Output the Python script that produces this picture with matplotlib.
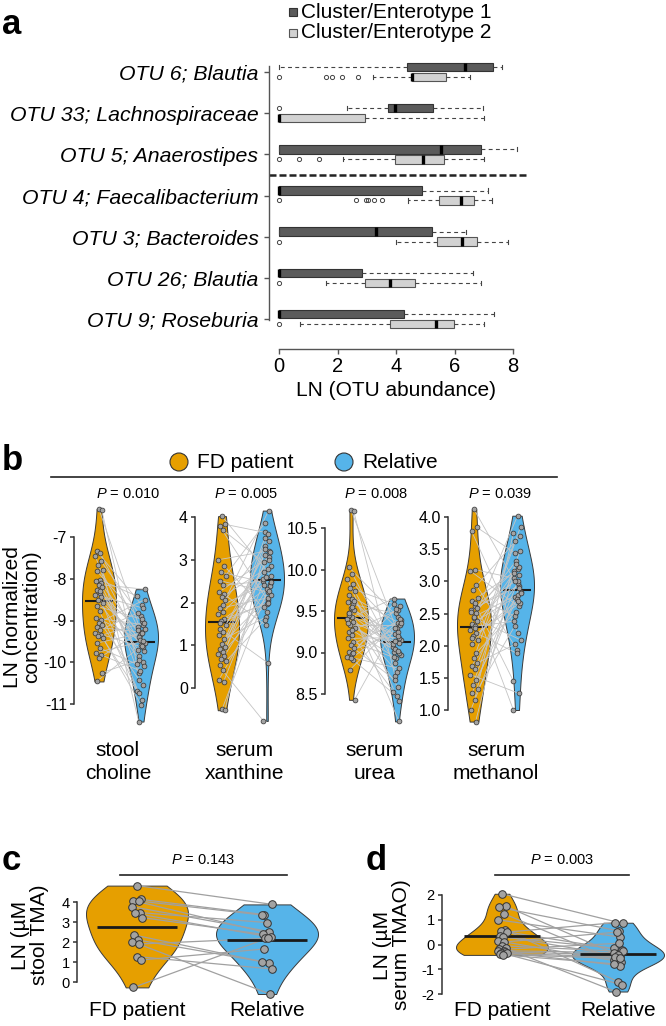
#!/usr/bin/python3
# Enterotype boxplots (a) and paired violin plots (b-d)
import numpy as np
import matplotlib
matplotlib.use('Agg')
import matplotlib.pyplot as plt
from matplotlib.patches import Rectangle, Circle

plt.rcParams['font.family'] = ['Liberation Sans', 'DejaVu Sans']
plt.rcParams['axes.unicode_minus'] = False
plt.rcParams['mathtext.fontset'] = 'custom'
plt.rcParams['mathtext.it'] = 'Liberation Sans:italic'
plt.rcParams['mathtext.rm'] = 'Liberation Sans'

# ==================================================
#   Panel a - box statistics per OTU (top to bottom)
otus = ['OTU 6; Blautia', 'OTU 33; Lachnospiraceae', 'OTU 5; Anaerostipes',
        'OTU 4; Faecalibacterium', 'OTU 3; Bacteroides', 'OTU 26; Blautia',
        'OTU 9; Roseburia']
c1_lo = [0, 2.31, 0, 0, 0, 0, 0]
c1_q1 = [4.37, 3.72, 0, 0, 0, 0, 0]
c1_med = [6.37, 3.97, 5.53, 0, 3.30, 0, 0]
c1_q3 = [7.32, 5.26, 6.90, 4.89, 5.24, 2.83, 4.29]
c1_hi = [7.61, 6.96, 8.12, 7.15, 6.40, 6.62, 7.36]
c1_out = [[], [0], [], [], [], [], []]
c2_lo = [3.20, 0, 2.20, 4.42, 3.99, 1.60, 0.71]
c2_q1 = [4.54, 0, 3.95, 5.46, 5.39, 2.95, 3.80]
c2_med = [4.54, 0, 4.91, 6.21, 6.27, 3.80, 5.37]
c2_q3 = [5.72, 2.94, 5.64, 6.67, 6.76, 4.65, 5.98]
c2_hi = [6.52, 7.00, 7.01, 7.29, 7.84, 6.91, 7.01]
c2_out = [[0, 1.61, 1.80, 2.17, 2.70], [], [0, 0.69, 1.37],
          [0, 2.63, 2.97, 3.05, 3.26, 3.51], [0], [0], [0]]

#   Panel b - LN normalized concentrations (paired FD patient / relative)
choline_fd = [-6.33, -6.36, -7.34, -7.38, -7.46, -7.58, -7.66, -7.78, -7.82, -8.02,
              -8.06, -8.10, -8.14, -8.20, -8.26, -8.33, -8.38, -8.44, -8.50, -8.58,
              -8.66, -8.78, -8.94, -8.98, -9.05, -9.10, -9.16, -9.22, -9.29, -9.34,
              -9.38, -9.42, -9.54, -9.66, -9.77, -9.82, -9.90, -10.25, -10.46, -8.30]
choline_rel = [-9.53, -10.26, -8.62, -9.16, -10.54, -8.90, -9.74, -11.42, -9.02, -8.42,
               -10.00, -9.34, -8.25, -9.86, -10.90, -9.22, -8.70, -9.58, -10.10, -9.40,
               -8.97, -10.68, -9.10, -9.46, -8.50, -10.42, -9.28, -8.82, -9.64, -11.02,
               -9.05, -10.74, -9.30, -10.05, -9.50, -10.20, -9.20, -9.95, -9.60, -9.70]
xanthine_fd = [4.02, 3.83, 3.79, 3.69, 3.00, 2.86, 2.71, 2.63, 2.51, 2.40,
               2.24, 2.20, 2.13, 2.05, 1.86, 1.78, 1.74, 1.62, 1.57, 1.47,
               1.39, 1.31, 1.24, 1.14, 1.04, 0.97, 0.91, 0.85, 0.80, 0.74,
               0.67, 0.62, 0.54, 0.41, 0.19, 0.15, -0.50, -0.52, 1.52, 1.95]
xanthine_rel = [2.63, 3.64, 2.05, 2.94, 3.21, 1.78, 2.44, 3.85, 2.24, 2.50,
                3.06, 1.47, 2.86, 3.33, 2.11, 2.71, 4.15, 1.97, 2.38, 3.12,
                0.58, 2.55, 3.00, 1.66, 2.17, 3.52, 2.79, 1.90, 3.44, 2.32,
                3.17, 1.59, 3.60, -0.77, 2.28, 2.60, 2.47, 3.25, 2.00, 2.42]
urea_fd = [10.72, 10.70, 10.03, 9.95, 9.89, 9.83, 9.78, 9.74, 9.69, 9.65,
           9.61, 9.58, 9.54, 9.51, 9.47, 9.43, 9.40, 9.37, 9.33, 9.29,
           9.25, 9.21, 9.17, 9.13, 9.09, 9.05, 9.01, 8.98, 8.95, 8.91,
           8.79, 8.43, 9.45, 9.55, 9.35, 9.00, 8.93, 9.62, 9.48, 9.27]
urea_rel = [9.15, 8.72, 9.43, 9.01, 8.41, 9.29, 9.56, 8.87, 9.36, 9.07,
            8.17, 9.47, 8.97, 9.22, 8.59, 9.65, 9.11, 8.77, 9.33, 9.04,
            9.51, 8.53, 9.18, 8.93, 9.39, 8.67, 9.25, 9.59, 8.81, 8.47,
            9.40, 9.30, 9.20, 9.10, 9.00, 9.52, 9.35, 9.14, 9.02, 8.95]
methanol_fd = [4.12, 3.84, 3.78, 3.18, 3.16, 2.95, 2.87, 2.74, 2.69, 2.61,
               2.56, 2.51, 2.43, 2.39, 2.34, 2.30, 2.24, 2.20, 2.15, 2.09,
               2.03, 2.66, 2.52, 1.88, 1.81, 1.73, 1.68, 1.63, 1.55, 1.47,
               1.39, 1.32, 1.26, 1.16, 1.00, 0.82, 2.45, 2.58, 2.12, 2.28]
methanol_rel = [2.84, 3.44, 2.20, 3.05, 2.61, 1.94, 3.70, 2.46, 3.19, 1.00,
                2.93, 3.31, 2.09, 2.75, 4.02, 2.38, 3.10, 1.88, 2.66, 3.62,
                2.97, 1.45, 3.23, 2.53, 3.85, 2.02, 2.79, 3.16, 1.26, 2.72,
                3.47, 2.30, 3.01, 3.75, 2.90, 3.27, 2.82, 3.00, 2.70, 3.13]
b_pvals = ['0.010', '0.005', '0.008', '0.039']
b_names = ['stool\ncholine', 'serum\nxanthine', 'serum\nurea', 'serum\nmethanol']

#   Panel c / d - TMA and TMAO
tma_fd = [4.82, 4.13, 4.07, 4.05, 3.77, 3.47, 3.43, 3.22, 2.35, 2.10, 2.02, 1.90, 1.27, 1.10, -0.27]
tma_rel = [3.88, 3.37, 2.45, 3.35, 2.52, 2.97, 2.24, 2.38, 0.95, 1.02, -0.60, 2.18, 0.65, 1.65, 2.20]
tmao_fd = [2.05, 1.55, 1.50, 1.25, 1.00, 0.60, 0.55, 0.50, 0.35, 0.30, 0.15,
           0.10, -0.05, -0.15, -0.20, -0.25, -0.28, -0.30, -0.33, -0.36, -0.40, -0.42]
tmao_rel = [0.85, -0.38, 0.55, -0.62, 0.30, -1.50, -0.22, 0.88, -0.46, -0.15, -0.70,
            0.50, -0.28, -1.90, 0.05, -0.33, -0.85, -0.42, -1.62, -0.50, -0.56, -0.78]

# ==================================================
W, H = 666, 1026
ORANGE, BLUE = '#E69F00', '#56B4E9'
JIT = np.array([0.0, 0.7, -0.6, 0.3, -0.9, 0.5, -0.3, 0.9, -0.5, 0.15, -0.8, 0.4])

fig = plt.figure(figsize=(W / 100, H / 100), dpi=100)


def px_axes(left, top, right, bottom):
    return fig.add_axes([left / W, 1 - bottom / H, (right - left) / W, (bottom - top) / H])


#   ---- panel a
ax = px_axes(269, 55, 530, 349)
ux = (513 - 279) / 8.0
uy = 41.17
ax.set_xlim((269 - 279) / ux, (530 - 279) / ux)
ax.set_ylim((349 - 72) / uy, (55 - 72) / uy)
rows = np.arange(len(otus))


def box_stats(lo, q1, med, q3, hi, out):
    return [dict(whislo=lo[i], q1=q1[i], med=med[i], q3=q3[i], whishi=hi[i],
                 fliers=np.array(out[i], dtype=float)) for i in range(len(lo))]


for st, off, fc, ec in [(box_stats(c1_lo, c1_q1, c1_med, c1_q3, c1_hi, c1_out), -0.121, '#5b5b5b', '#333333'),
                        (box_stats(c2_lo, c2_q1, c2_med, c2_q3, c2_hi, c2_out), 0.121, '#d2d2d2', '#555555')]:
    kw = dict(positions=rows + off, widths=0.205, patch_artist=True, capwidths=0.1,
              boxprops=dict(facecolor=fc, edgecolor=ec, linewidth=0.8),
              medianprops=dict(color='black', linewidth=2.4),
              whiskerprops=dict(color='#444444', linewidth=0.8, linestyle=(0, (3.5, 3))),
              capprops=dict(color='#444444', linewidth=0.8),
              flierprops=dict(marker='o', markersize=3, markerfacecolor='none',
                              markeredgecolor='#444444', markeredgewidth=0.7))
    try:
        ax.bxp(st, orientation='horizontal', **kw)
    except TypeError:
        ax.bxp(st, vert=False, **kw)

ax.plot([(269 - 279) / ux, (526 - 279) / ux], [2.5, 2.5], color='#222222', lw=1.8,
        ls=(0, (2.8, 1.2)), clip_on=False)
ax.set_yticks(rows)
ax.set_yticklabels(otus, fontsize=15.3, fontstyle='italic')
ax.set_xticks([0, 2, 4, 6, 8])
ax.set_xticklabels(['0', '2', '4', '6', '8'], fontsize=14.5)
for s in ['top', 'right']:
    ax.spines[s].set_visible(False)
ax.spines['left'].set_bounds(-0.15, 6.02)
ax.spines['bottom'].set_bounds(0, 8)
for s in ['left', 'bottom']:
    ax.spines[s].set_color('#555555')
    ax.spines[s].set_linewidth(1.0)
ax.tick_params(axis='y', length=3.6, width=1.0, color='#555555', pad=4)
ax.tick_params(axis='x', length=3.6, width=1.0, color='#555555', pad=2)
ax.patch.set_visible(False)


#   ---- paired violins
def paired_axes(spine, c0, c1, ya, pa, yb, pb, top, bottom, right):
    a = px_axes(spine, top, right, bottom)
    u = float(c1 - c0)
    a.set_xlim((spine - c0) / u, (right - c0) / u)
    v = (pb - pa) / float(ya - yb)
    a.set_ylim(ya - (bottom - pa) / v, ya - (top - pa) / v)
    return a, u


def style_axes(a, ticks, labels, fs):
    for s in ['top', 'right', 'bottom']:
        a.spines[s].set_visible(False)
    a.spines['left'].set_bounds(min(ticks), max(ticks))
    a.spines['left'].set_color('#333333')
    a.spines['left'].set_linewidth(1.1)
    a.set_yticks(ticks)
    a.set_yticklabels(labels, fontsize=fs)
    a.set_xticks([])
    a.tick_params(axis='y', length=3.2, width=1.1, color='#333333', pad=2)
    a.patch.set_visible(False)


def paired(a, u, fd, rel, vw, mhalf, stat, amp, pt_s, pt_lw, line_c, line_lw, med_lw, med_z, bw=None):
    parts = a.violinplot([fd, rel], positions=[0, 1], widths=vw / u, showextrema=False, bw_method=bw)
    for body, col in zip(parts['bodies'], [ORANGE, BLUE]):
        body.set_facecolor(col)
        body.set_edgecolor('#3a3a3a')
        body.set_linewidth(0.7)
        body.set_alpha(1)
        body.set_zorder(1)
    n = len(fd)
    xf = np.resize(JIT, n) * amp / u
    xr = 1 + np.resize(np.roll(JIT, 5), n) * amp / u
    for i in range(n):
        a.plot([xf[i], xr[i]], [fd[i], rel[i]], color=line_c, lw=line_lw, zorder=3)
    for k, vals in enumerate([fd, rel]):
        a.hlines(stat(vals), k - mhalf / u, k + mhalf / u, color='#1a1a1a', lw=med_lw, zorder=med_z)
    a.scatter(xf, fd, s=pt_s, c='#a3a3a3', edgecolors='#333333', linewidths=pt_lw, zorder=4)
    a.scatter(xr, rel, s=pt_s, c='#a3a3a3', edgecolors='#333333', linewidths=pt_lw, zorder=4)


b_data = [(choline_fd, choline_rel), (xanthine_fd, xanthine_rel),
          (urea_fd, urea_rel), (methanol_fd, methanol_rel)]
b_geom = [(74, 99, 141, -7, 537, -11, 704, 172),
          (195, 222, 267, 4, 517, 0, 688, 300),
          (325, 351, 397, 10.5, 528, 8.5, 694, 425),
          (448, 474, 517, 4.0, 517, 1.0, 710, 560)]
b_ticks = [([-11, -10, -9, -8, -7], ['-11', '-10', '-9', '-8', '-7']),
           ([0, 1, 2, 3, 4], ['0', '1', '2', '3', '4']),
           ([8.5, 9.0, 9.5, 10.0, 10.5], ['8.5', '9.0', '9.5', '10.0', '10.5']),
           ([1.0, 1.5, 2.0, 2.5, 3.0, 3.5, 4.0], ['1.0', '1.5', '2.0', '2.5', '3.0', '3.5', '4.0'])]
for (fd, rel), g, (tk, tl) in zip(b_data, b_geom, b_ticks):
    a, u = paired_axes(g[0], g[1], g[2], g[3], g[4], g[5], g[6], 500, 730, g[7])
    paired(a, u, fd, rel, 34, 14, np.median, 4, 12, 0.5, '#c4c4c4', 0.6, 1.5, 2, bw=0.6)
    style_axes(a, tk, tl, 11.5)

a, u = paired_axes(77, 137, 267, 4, 902, 0, 982, 878, 1002, 335)
paired(a, u, tma_fd, tma_rel, 102, 40, np.mean, 6, 30, 0.7, '#a0a0a0', 0.9, 2.0, 3.5, bw=0.68)
style_axes(a, [0, 1, 2, 3, 4], ['0', '1', '2', '3', '4'], 10.5)

a, u = paired_axes(442, 502, 618, 2, 895, -2, 994, 878, 1002, 666)
paired(a, u, tmao_fd, tmao_rel, 92, 38, np.mean, 5, 30, 0.7, '#a0a0a0', 0.9, 2.0, 3.5)
style_axes(a, [-2, -1, 0, 1, 2], ['-2', '-1', '0', '1', '2'], 10.5)

# ==================================================
#   Overlay in pixel coordinates: panel letters, legends, labels
ov = fig.add_axes([0, 0, 1, 1])
ov.set_xlim(0, W)
ov.set_ylim(H, 0)
ov.axis('off')

for x, y, t in [(2, 24, 'a'), (2, 460, 'b'), (2, 860, 'c'), (366, 860, 'd')]:
    ov.text(x, y, t, fontsize=25, fontweight='bold', va='center', ha='left')

# legend a
ov.add_patch(Rectangle((289, 8), 8, 8, facecolor='#5b5b5b', edgecolor='#333333', lw=0.8))
ov.add_patch(Rectangle((289, 29), 8, 8, facecolor='#d2d2d2', edgecolor='#555555', lw=0.8))
ov.text(301, 12, 'Cluster/Enterotype 1', fontsize=15, va='center')
ov.text(301, 33, 'Cluster/Enterotype 2', fontsize=15, va='center')
ov.text(396, 390, 'LN (OTU abundance)', fontsize=15, ha='center', va='center')

# legend b
ov.add_patch(Circle((179, 462), 9, facecolor=ORANGE, edgecolor='#333333', lw=0.8))
ov.add_patch(Circle((344, 462), 9, facecolor=BLUE, edgecolor='#333333', lw=0.8))
ov.text(197, 462, 'FD patient', fontsize=15, va='center')
ov.text(362, 462, 'Relative', fontsize=15, va='center')
ov.plot([51, 557], [477, 477], color='#222222', lw=1.2)
for x, p in zip([128, 246, 376, 500], b_pvals):
    ov.text(x, 494, '$P$ = ' + p, fontsize=10.5, ha='center', va='center')
for x, t in zip([118, 245, 375, 496], b_names):
    ov.text(x, 762, t, fontsize=15, ha='center', va='center', linespacing=1.25)
ov.text(22, 617, 'LN (normalized\nconcentration)', fontsize=15, rotation=90,
        ha='center', va='center', linespacing=1.05)

# c / d headers and labels
for x0, x1, xt, p in [(120, 287, 203, '0.143'), (495, 629, 562, '0.003')]:
    ov.plot([x0, x1], [875, 875], color='#222222', lw=1.2)
    ov.text(xt, 860, '$P$ = ' + p, fontsize=10.5, ha='center', va='center')
ov.text(30, 935, 'LN (µM\nstool TMA)', fontsize=15, rotation=90, ha='center', va='center', linespacing=1.05)
ov.text(392, 945, 'LN (µM\nserum TMAO)', fontsize=15, rotation=90, ha='center', va='center', linespacing=1.05)
for x, t in [(137, 'FD patient'), (267, 'Relative'), (502, 'FD patient'), (618, 'Relative')]:
    ov.text(x, 1010, t, fontsize=15, ha='center', va='center')

fig.savefig('out.png', dpi=100)
